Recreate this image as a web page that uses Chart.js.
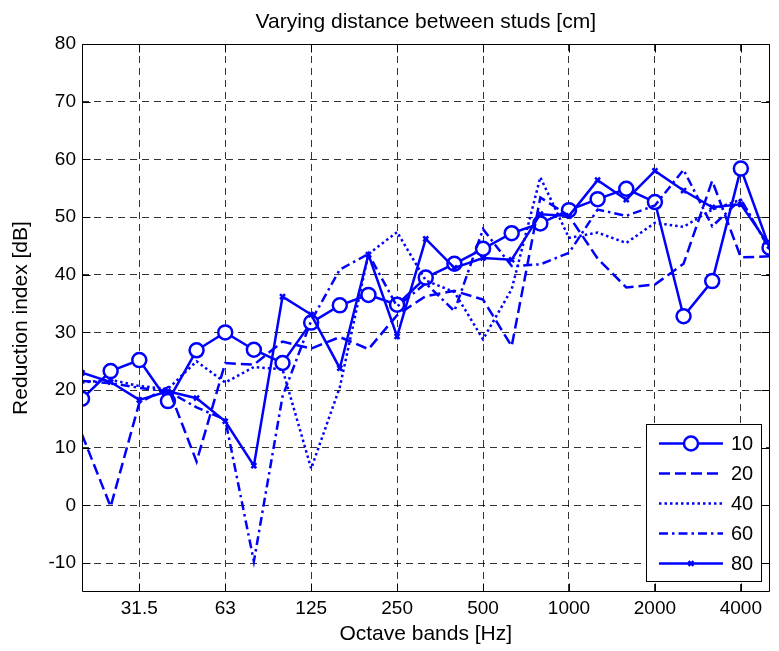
<!DOCTYPE html>
<html>
<head>
<meta charset="utf-8">
<script src="https://cdn.jsdelivr.net/npm/chart.js@4.4.0/dist/chart.umd.min.js"></script>
<style>
  html, body { margin: 0; padding: 0; background: #fff; }
</style>
</head>
<body>
<canvas id="chart" width="779" height="651"></canvas>
<script>
// Third-octave band centre frequencies (x categories)
const bands = ['20', '25', '31.5', '40', '50', '63', '80', '100', '125', '160', '200', '250', '315',
  '400', '500', '630', '800', '1000', '1250', '1600', '2000', '2500', '3150', '4000', '5000'];
// Octave bands that get a tick label / grid line
const octaveTicks = ['31.5', '63', '125', '250', '500', '1000', '2000', '4000'];

// Reduction index [dB] for each stud distance [cm]
const studs10 = [18.5, 23.3, 25.2, 18.1, 26.9, 30.0, 27.0, 24.7, 31.7, 34.7, 36.5, 34.8, 39.5,
  41.9, 44.5, 47.2, 48.9, 51.2, 53.1, 54.9, 52.6, 32.8, 38.9, 58.4, 44.7];
const studs20 = [12.3, -0.2, 17.8, 20.5, 7.6, 24.7, 24.4, 28.4, 27.2, 29.2, 27.1, 33.0, 36.3,
  37.2, 35.7, 27.6, 53.4, 50.2, 42.8, 37.8, 38.3, 41.9, 56.3, 43.0, 43.2];
const studs40 = [21.3, 21.8, 20.7, 20.2, 25.0, 21.3, 24.0, 23.6, 6.4, 20.5, 43.6, 47.4, 39.0,
  37.0, 28.8, 37.5, 56.9, 46.4, 47.3, 45.5, 49.0, 48.3, 51.3, 53.0, 44.5];
const studs60 = [21.6, 21.2, 20.4, 19.8, 17.0, 14.9, -9.7, 18.9, 32.0, 40.9, 43.6, 34.5, 38.5,
  33.7, 47.9, 41.5, 41.8, 43.8, 51.3, 50.2, 52.0, 58.2, 48.4, 53.1, 44.4];
const studs80 = [23.0, 21.4, 18.3, 19.8, 18.6, 14.6, 6.9, 36.2, 33.1, 23.8, 43.5, 29.3, 46.2,
  41.2, 42.9, 42.6, 50.5, 50.2, 56.4, 53.0, 58.0, 54.6, 51.7, 52.2, 45.0];

const BLUE = '#0000ff';
const FONT = '"Liberation Sans", Arial, Helvetica, sans-serif';
const TITLE = 'Varying distance between studs [cm]';

function series(label, values, dash, pointStyle, radius, order) {
  return {
    label: label,
    data: values.map((v, i) => ({ x: i, y: v })),
    borderColor: BLUE,
    backgroundColor: '#fff',
    borderWidth: 2.5,
    borderDash: dash,
    pointStyle: pointStyle,
    pointRadius: radius,
    pointBorderWidth: 2.5,
    pointBorderColor: BLUE,
    pointBackgroundColor: '#fff',
    order: order,
  };
}

// frame + inward ticks + title centred over the axes (matlab style)
const axesBox = {
  id: 'axesBox',
  afterDatasetsDraw(chart) {
    const { ctx, chartArea: a, scales: { x, y } } = chart;
    const L = Math.round(a.left) + 0.5, R = Math.round(a.right) - 0.5;
    const T = Math.round(a.top) + 0.5, B = Math.round(a.bottom) - 0.5;
    const tl = 8;
    ctx.save();
    ctx.strokeStyle = '#000';
    ctx.lineWidth = 1;
    ctx.setLineDash([]);
    ctx.beginPath();
    ctx.rect(L, T, R - L, B - T);
    x.ticks.forEach(t => {
      const px = Math.round(x.getPixelForValue(t.value)) + 0.5;
      ctx.moveTo(px, B); ctx.lineTo(px, B - tl);
      ctx.moveTo(px, T); ctx.lineTo(px, T + tl);
    });
    y.ticks.forEach(t => {
      const py = Math.round(y.getPixelForValue(t.value)) + 0.5;
      ctx.moveTo(L, py); ctx.lineTo(L + tl, py);
      ctx.moveTo(R, py); ctx.lineTo(R - tl, py);
    });
    ctx.stroke();

    ctx.fillStyle = '#000';
    ctx.font = '21px ' + FONT;
    ctx.textAlign = 'center';
    ctx.textBaseline = 'middle';
    ctx.fillText(TITLE, (a.left + a.right) / 2, 22);
    ctx.restore();
  }
};

// legend box in the lower right corner
const boxLegend = {
  id: 'boxLegend',
  afterDraw(chart) {
    const ctx = chart.ctx;
    const bx = 646.5, by = 424.5, bw = 115, bh = 157;
    ctx.save();
    ctx.fillStyle = '#fff';
    ctx.fillRect(bx, by, bw, bh);
    ctx.strokeStyle = '#000';
    ctx.lineWidth = 1;
    ctx.setLineDash([]);
    ctx.strokeRect(bx, by, bw, bh);
    ctx.font = '20px ' + FONT;
    ctx.textBaseline = 'middle';
    chart.data.datasets.forEach((ds, i) => {
      const cy = by + 19 + i * 30;
      ctx.strokeStyle = ds.borderColor;
      ctx.lineWidth = ds.borderWidth;
      ctx.setLineDash(ds.borderDash || []);
      ctx.beginPath();
      ctx.moveTo(659, cy);
      ctx.lineTo(723, cy);
      ctx.stroke();
      ctx.setLineDash([]);
      if (ds.pointRadius > 0) {
        ctx.fillStyle = ds.pointBackgroundColor;
        ctx.strokeStyle = ds.pointBorderColor;
        ctx.lineWidth = ds.pointBorderWidth;
        Chart.helpers.drawPoint(ctx, { pointStyle: ds.pointStyle, radius: ds.pointRadius, borderWidth: ds.pointBorderWidth, rotation: 0 }, 691, cy);
      }
      ctx.fillStyle = '#000';
      ctx.fillText(ds.label, 731, cy + 1);
    });
    ctx.restore();
  }
};

const gridStyle = {
  color: 'rgba(0,0,0,0.8)',
  lineWidth: 1,
  drawTicks: false,
};

new Chart(document.getElementById('chart'), {
  type: 'line',
  data: {
    datasets: [
      series('10', studs10, [], 'circle', 7, 4),
      series('20', studs20, [11, 5], 'circle', 0, 3),
      series('40', studs40, [2.5, 3], 'circle', 0, 2),
      series('60', studs60, [9, 4, 2.5, 4], 'circle', 0, 1),
      series('80', studs80, [], 'crossRot', 3.5, 0),
    ],
  },
  options: {
    responsive: false,
    animation: false,
    layout: { padding: { top: 44, right: 2 } },
    elements: { line: { tension: 0 } },
    plugins: {
      legend: { display: false },
      tooltip: { enabled: false },
      title: { display: false },
    },
    scales: {
      x: {
        type: 'linear',
        min: 0,
        max: bands.length - 1,
        afterBuildTicks: s => { s.ticks = octaveTicks.map(b => ({ value: bands.indexOf(b) })); },
        afterFit: s => { s.height = 59; },
        ticks: {
          autoSkip: false,
          maxRotation: 0,
          padding: 5,
          color: '#000',
          font: { family: FONT, size: 19 },
          callback: v => bands[v],
        },
        grid: { ...gridStyle },
        border: { display: false, dash: [7, 5] },
        title: {
          display: true,
          text: 'Octave bands [Hz]',
          color: '#000',
          font: { family: FONT, size: 21 },
          padding: { top: 0, bottom: 4 },
        },
      },
      y: {
        min: -15,
        max: 80,
        afterBuildTicks: s => { s.ticks = s.ticks.filter(t => t.value >= -10); },
        afterFit: s => { s.width = 82; },
        ticks: {
          stepSize: 10,
          padding: 6,
          color: '#000',
          font: { family: FONT, size: 19 },
        },
        grid: { ...gridStyle },
        border: { display: false, dash: [7, 5] },
        title: {
          display: true,
          text: 'Reduction index [dB]',
          color: '#000',
          font: { family: FONT, size: 21 },
          padding: { top: 9, bottom: 0 },
        },
      },
    },
  },
  plugins: [axesBox, boxLegend],
});
</script>
</body>
</html>
